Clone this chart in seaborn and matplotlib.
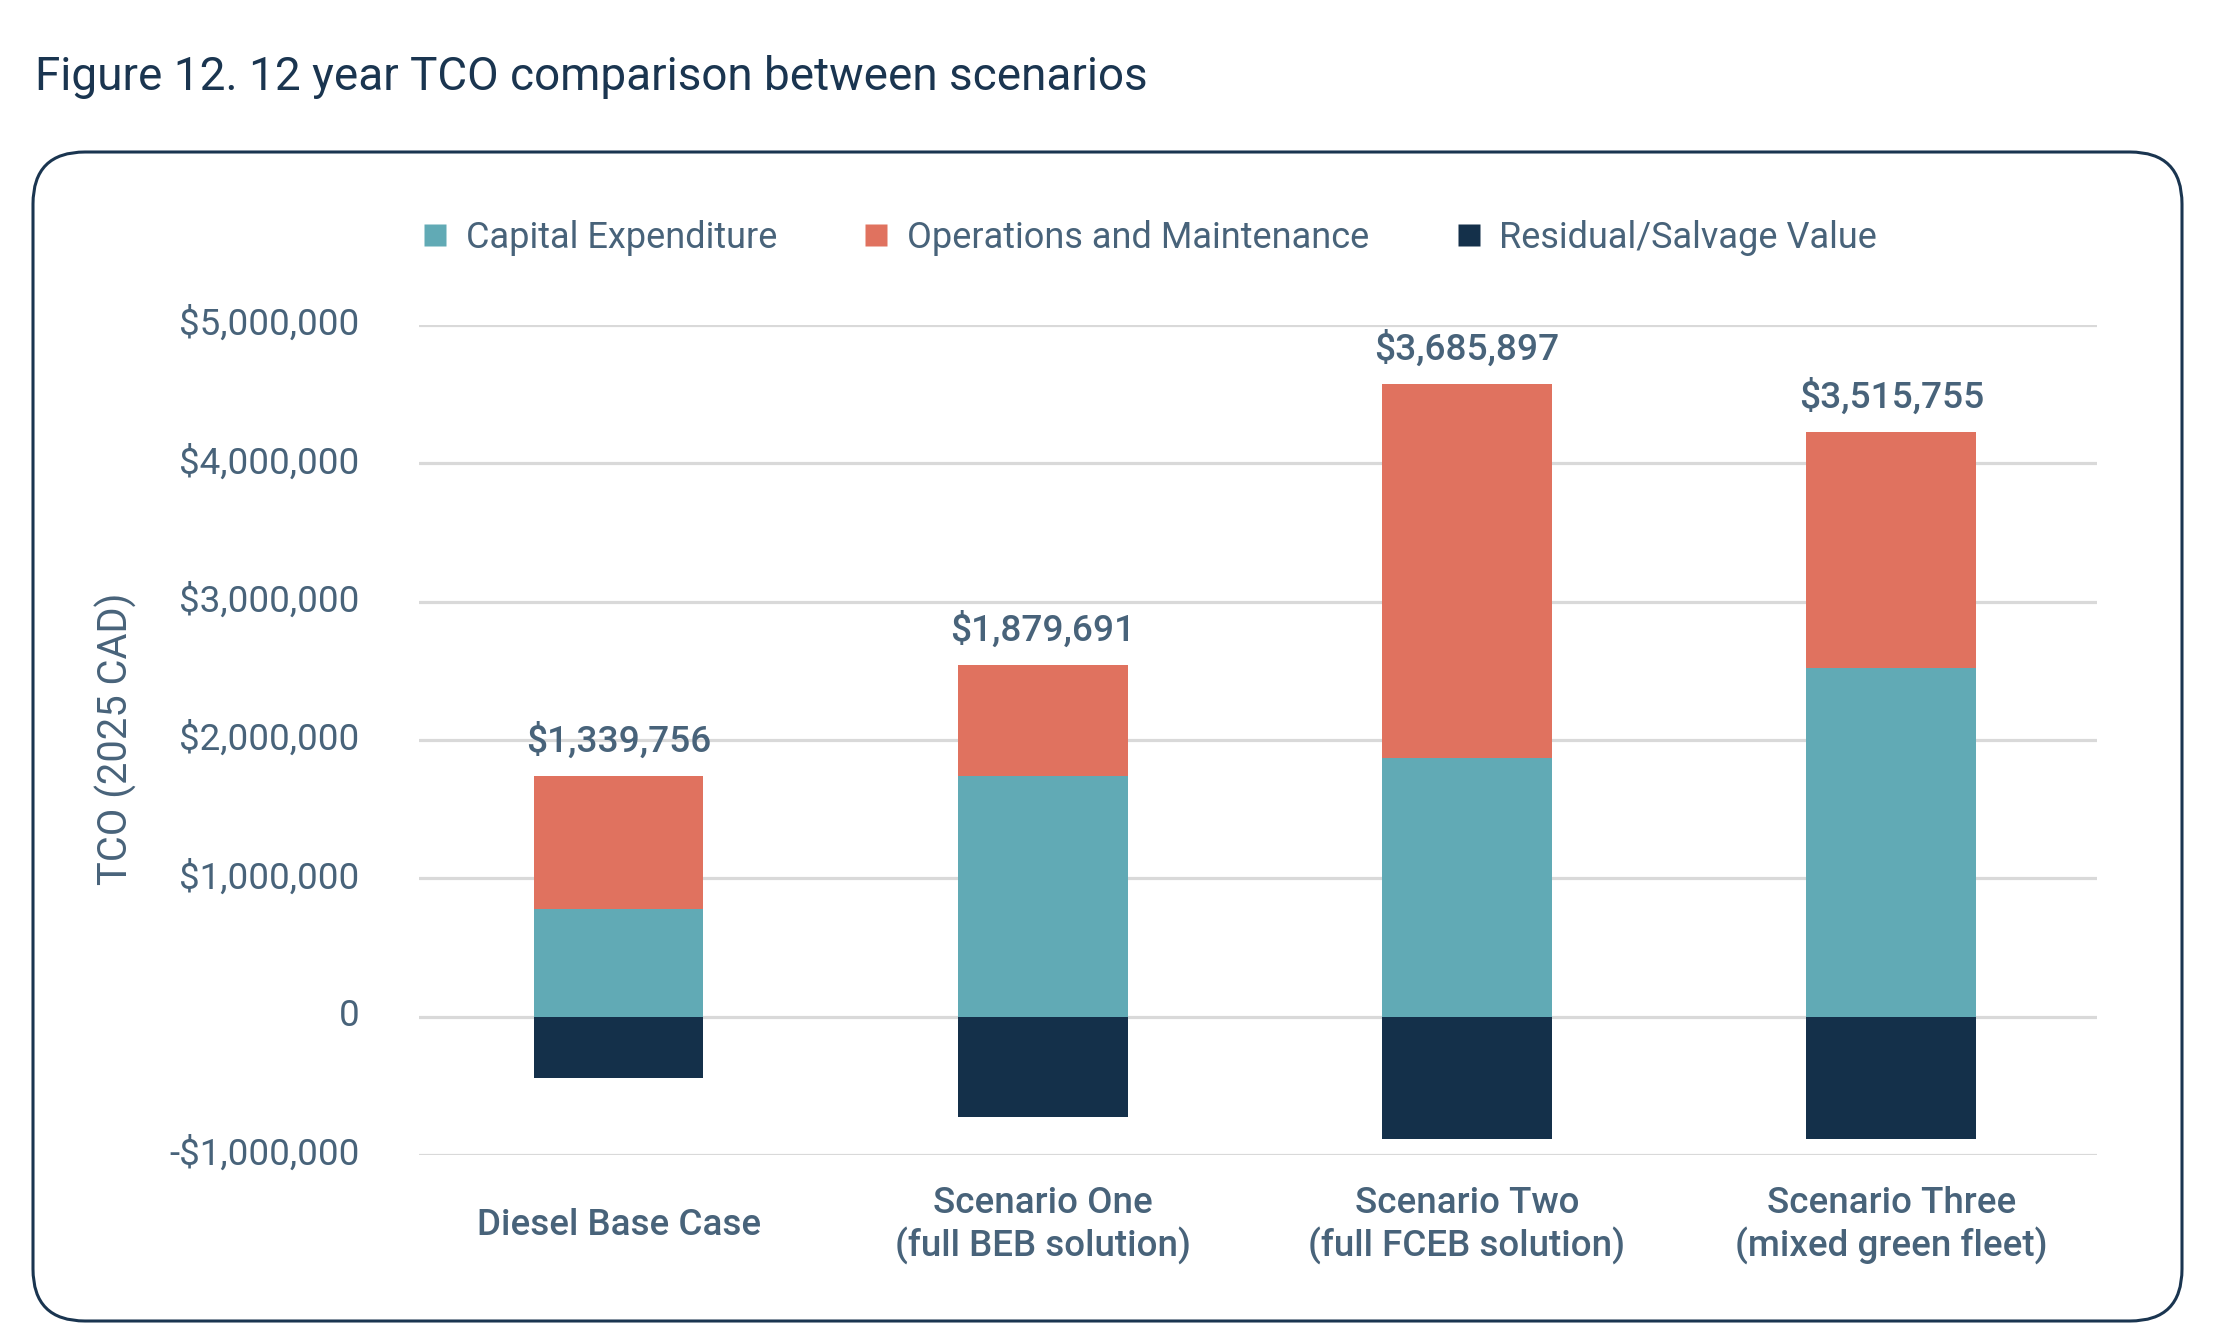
import matplotlib
matplotlib.use('Agg')
import matplotlib.pyplot as plt
import seaborn as sns
import numpy as np
from matplotlib.patches import FancyBboxPatch
from matplotlib.lines import Line2D
from matplotlib.transforms import IdentityTransform, ScaledTranslation

# 12 year TCO per scenario (2025 CAD)
scenarios = [
    'Diesel Base Case',
    'Scenario One\n(full BEB solution)',
    'Scenario Two\n(full FCEB solution)',
    'Scenario Three\n(mixed green fleet)',
]
capex = [778000, 1740000, 1870000, 2524000]
om = [959000, 805000, 2705000, 1700000]
residual = [-444000, -723000, -881000, -881000]
totals = [1339756, 1879691, 3685897, 3515755]
series_names = ['Capital Expenditure', 'Operations and Maintenance', 'Residual/Salvage Value']

TEAL = '#61aab5'
CORAL = '#e0725f'
NAVY = '#14304a'
TEXT = '#48637a'
DARK = '#1a3550'

sns.set_theme(style='white')
plt.rcParams['font.family'] = ['Roboto', 'DejaVu Sans']

fig = plt.figure(figsize=(22.22, 13.38), dpi=100)
ax = fig.add_axes([419 / 2222, 1 - 1155 / 1338, (2097 - 419) / 2222, (1155 - 325) / 1338])

# stacked bars: draw the full positive stack, then capex over it, then residual below zero
pos_total = np.add(capex, om)
sns.barplot(x=scenarios, y=pos_total, color=CORAL, width=0.4, errorbar=None,
            saturation=1, ax=ax, zorder=3)
sns.barplot(x=scenarios, y=capex, color=TEAL, width=0.4, errorbar=None,
            saturation=1, ax=ax, zorder=3)
sns.barplot(x=scenarios, y=residual, color=NAVY, width=0.4, errorbar=None,
            saturation=1, ax=ax, zorder=3)

for p in ax.patches:
    p.set_edgecolor('none')

ax.set_xlim(-0.4706, 3.485)
ax.set_ylim(-1000000, 5000000)
ax.set_yticks(np.arange(-1000000, 5000001, 1000000))


def money(v):
    if v == 0:
        return '0'
    s = '${:,.0f}'.format(abs(v))
    return '-' + s if v < 0 else s


ax.set_yticklabels([money(v) for v in ax.get_yticks()])
ax.yaxis.grid(True, color='#d9d9d9', linewidth=2.3)
ax.xaxis.grid(False)
ax.set_axisbelow(True)
for s in ax.spines.values():
    s.set_visible(False)
ax.set_xlabel('')
ax.set_ylabel('')

ax.tick_params(axis='y', length=0, pad=43, labelsize=26.5, labelcolor=TEXT)
ax.tick_params(axis='x', length=0, pad=51, labelsize=26.5, labelcolor=TEXT)
for lab in ax.get_xticklabels():
    lab.set_verticalalignment('center')
    lab.set_fontweight('medium')
# the value labels sit a little above their gridlines
nudge = ScaledTranslation(0, 3 / 72, fig.dpi_scale_trans)
for lab in ax.get_yticklabels():
    lab.set_transform(lab.get_transform() + nudge)

# total labels above each bar
for i, (top, tot) in enumerate(zip(pos_total, totals)):
    ax.annotate(money(tot), xy=(i, top), xytext=(0, 25), textcoords='offset points',
                ha='center', va='center', fontsize=26.7, fontweight='medium', color=TEXT)

# legend
handles = [Line2D([], [], marker='s', linestyle='none', markersize=16,
                  markerfacecolor=c, markeredgecolor='none')
           for c in [TEAL, CORAL, NAVY]]
leg = fig.legend(handles, series_names, loc='center', bbox_to_anchor=(1148 / 2222, 1 - 238 / 1338),
                 ncol=3, frameon=False, fontsize=26, handletextpad=0.4, columnspacing=2.3,
                 handlelength=0.9)
for t in leg.get_texts():
    t.set_color(TEXT)

# axis title and figure title
fig.text(116 / 2222, 1 - 739 / 1338, 'TCO (2025 CAD)', rotation=90, ha='center', va='center',
         fontsize=28.7, color=TEXT)
fig.text(35 / 2222, 1 - 77 / 1338, 'Figure 12. 12 year TCO comparison between scenarios',
         ha='left', va='center', fontsize=33, color=DARK)

# rounded frame around the chart
frame = FancyBboxPatch((33, 1338 - 1321), 2182 - 33, 1321 - 152,
                       boxstyle='round,pad=0,rounding_size=52', transform=IdentityTransform(),
                       facecolor='none', edgecolor=DARK, linewidth=2.2)
fig.patches.append(frame)

fig.savefig('out.png', dpi=100)
